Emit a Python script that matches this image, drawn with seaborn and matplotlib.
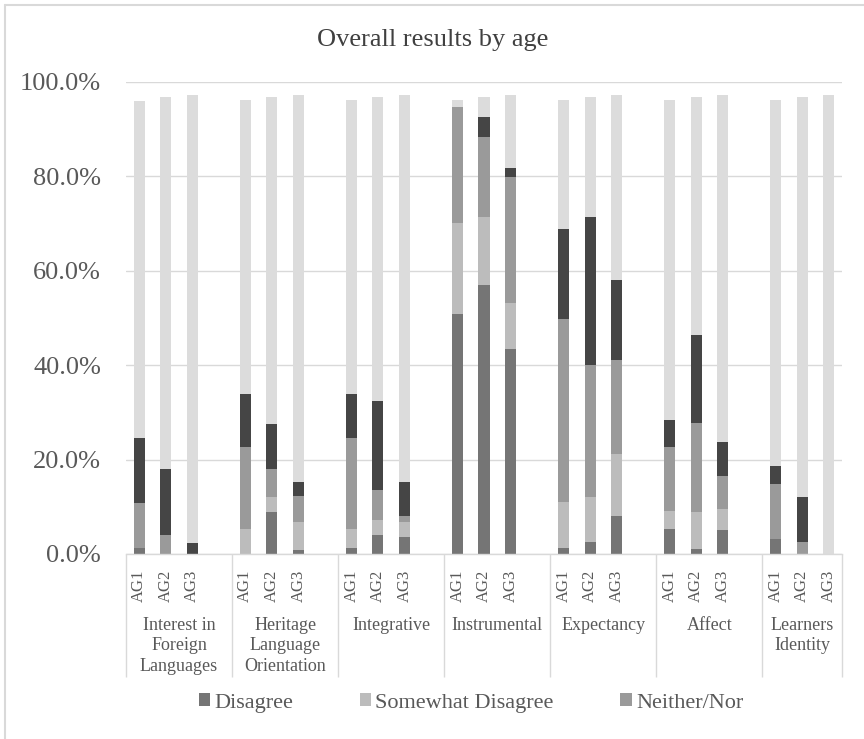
import numpy as np
import pandas as pd
import matplotlib
matplotlib.use("Agg")
import matplotlib.pyplot as plt
import matplotlib.transforms as mtransforms
from matplotlib.lines import Line2D
from matplotlib.patches import Patch
from matplotlib.font_manager import FontProperties
import seaborn as sns

# ---- data (percent of respondents) ----
groups = ["Interest in\nForeign\nLanguages", "Heritage\nLanguage\nOrientation",
          "Integrative", "Instrumental", "Expectancy", "Affect", "Learners\nIdentity"]
ages = ["AG1", "AG2", "AG3"]
levels = ["Disagree", "Somewhat Disagree", "Neither/Nor", "Somewhat Agree", "Agree"]

disagree = [[1.3, 0.0, 0.0], [0.0, 8.8, 0.9], [1.3, 4.0, 3.7], [50.9, 56.9, 43.5],
            [1.3, 2.6, 8.0], [5.3, 1.0, 5.1], [3.1, 0.0, 0.0]]
somewhat_disagree = [[0.0, 0.0, 0.0], [5.3, 3.2, 5.8], [4.0, 3.2, 3.0], [19.2, 14.6, 9.6],
                     [9.8, 9.5, 13.1], [3.9, 7.8, 4.4], [0.0, 0.0, 0.0]]
neither_nor = [[9.6, 4.0, 0.0], [17.3, 6.1, 5.6], [19.2, 6.3, 1.3], [24.6, 16.8, 26.8],
               [38.6, 28.0, 20.0], [13.4, 18.9, 7.1], [11.7, 2.6, 0.0]]
somewhat_agree = [[13.6, 14.1, 2.3], [11.4, 9.4, 3.0], [9.5, 18.9, 7.3], [0.0, 4.3, 1.9],
                  [19.2, 31.4, 17.0], [5.8, 18.8, 7.2], [3.8, 9.4, 0.0]]
agree = [[71.5, 78.7, 94.9], [62.1, 69.3, 81.9], [62.1, 64.4, 81.9], [1.4, 4.2, 15.4],
         [27.2, 25.3, 39.1], [67.7, 50.3, 73.4], [77.5, 84.8, 97.2]]

colors = ["#757575", "#bcbcbc", "#9a9a9a", "#454545", "#dcdcdc"]

# ---- long table with cumulative stack heights ----
rows = []
series = [disagree, somewhat_disagree, neither_nor, somewhat_agree, agree]
for g, gname in enumerate(groups):
    for a, age in enumerate(ages):
        vals = np.array([s[g][a] for s in series]) / 100.0
        cum = np.cumsum(vals)
        row = {"group": gname, "age": age, "pos": g * 4 + a}
        for lev, c in zip(levels, cum):
            row[lev] = c
        rows.append(row)
df = pd.DataFrame(rows)

sns.set_theme(style="white")
plt.rcParams["font.family"] = ["Liberation Serif", "DejaVu Serif"]

W, H = 864, 739
fig = plt.figure(figsize=(W / 100, H / 100), dpi=100)
ax = fig.add_axes([126 / W, 1 - 554 / H, (842 - 126) / W, (554 - 82) / H])

# draw stacks from the top cumulative level down so each level overlays the previous
for lev, col in reversed(list(zip(levels, colors))):
    sns.barplot(data=df, x="pos", y=lev, native_scale=True, color=col, saturation=1,
                width=0.42, errorbar=None, linewidth=0, ax=ax)

ax.set_xlim(-0.5, 26.5)
ax.set_ylim(0, 1.0)
ax.set_yticks(np.arange(0, 1.01, 0.2))
ax.set_yticklabels([f"{v * 100:.1f}%" for v in np.arange(0, 1.01, 0.2)])
ax.set_xticks(df["pos"].tolist())
ax.set_xticklabels(df["age"].tolist(), rotation=90, va="top")
ax.set_xlabel("")
ax.set_ylabel("")

ax.yaxis.grid(True, color="#d9d9d9", linewidth=1.0)
ax.xaxis.grid(False)
ax.set_axisbelow(True)
for s in ["left", "top", "right"]:
    ax.spines[s].set_visible(False)
ax.spines["bottom"].set_color("#d9d9d9")
ax.spines["bottom"].set_linewidth(1.0)

ax.tick_params(axis="y", length=0, pad=18, labelsize=19, labelcolor="#595959")
ax.tick_params(axis="x", length=0, pad=11, labelsize=12, labelcolor="#595959")

# group boxes below the axis
trans = mtransforms.blended_transform_factory(ax.transData, ax.transAxes)
bounds = [-0.5, 3.5, 7.5, 11.5, 15.5, 19.5, 23.5, 26.5]
for b in bounds:
    ax.plot([b, b], [0, -0.26], transform=trans, color="#d9d9d9", lw=1.0,
            clip_on=False, solid_capstyle="butt")
for g, gname in enumerate(groups):
    lo, hi = bounds[g], bounds[g + 1]
    ax.text((lo + hi) / 2, -0.134, gname, transform=trans, ha="center", va="top",
            fontsize=13, color="#595959", linespacing=1.25)

# title
fig.text(433 / W, 1 - 40 / H, "Overall results by age", ha="center", va="center",
         fontsize=19, color="#404040")

# legend (first three response levels)
handles = [Patch(facecolor=c, edgecolor="none") for c in colors[:3]]
fig.legend(handles, levels[:3], loc="center", bbox_to_anchor=(471 / W, 1 - 703 / H),
           ncol=3, frameon=False, labelcolor="#595959",
           prop=FontProperties(family=["Liberation Serif", "DejaVu Serif"], size=16),
           handlelength=0.5, handleheight=0.5, handletextpad=0.2, columnspacing=3.0)

# chart-area outline
fig.add_artist(Line2D([5 / W, 5 / W], [0, 1 - 5 / H], transform=fig.transFigure,
                      color="#d9d9d9", lw=1.5))
fig.add_artist(Line2D([5 / W, 1], [1 - 5 / H, 1 - 5 / H], transform=fig.transFigure,
                      color="#d9d9d9", lw=1.5))

fig.savefig("out.png", dpi=100, facecolor="white")
